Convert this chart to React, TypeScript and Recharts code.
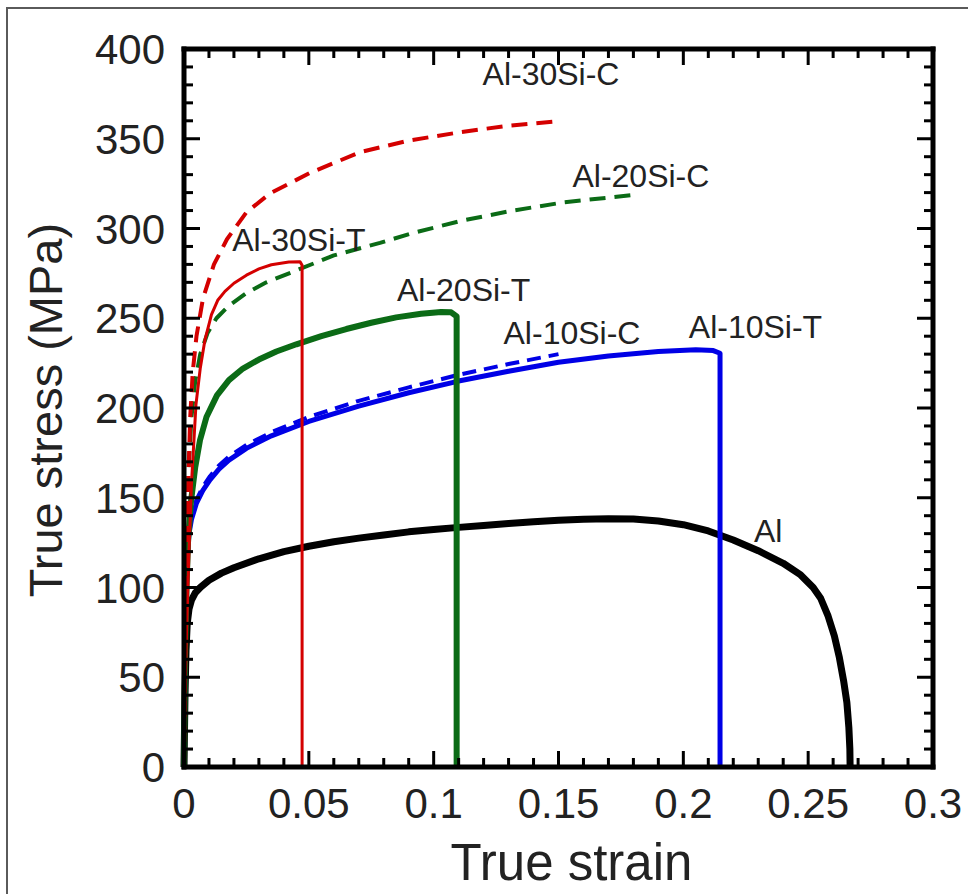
import { LineChart, Line, XAxis, YAxis, ReferenceDot, ReferenceLine, Scatter } from "recharts";

// [true strain, true stress (MPa)]
const al: [number, number][] = [
  [0, 0], [0.0004, 40], [0.0008, 65], [0.0013, 80], [0.002, 88], [0.003, 93],
  [0.0045, 97], [0.0065, 100], [0.01, 104], [0.015, 108], [0.02, 111], [0.03, 116],
  [0.04, 120], [0.05, 123], [0.06, 125.5], [0.07, 127.5], [0.08, 129.3], [0.09, 131],
  [0.1, 132.3], [0.11, 133.5], [0.12, 134.6], [0.13, 135.6], [0.14, 136.6], [0.15, 137.4],
  [0.16, 138], [0.17, 138.3], [0.18, 138.2], [0.19, 137], [0.2, 135], [0.21, 131.5],
  [0.22, 126.5], [0.23, 120.5], [0.24, 113.5], [0.247, 107], [0.252, 100], [0.255, 94],
  [0.258, 84], [0.2605, 73], [0.2625, 61], [0.2642, 48], [0.2655, 36], [0.2663, 22],
  [0.2667, 10], [0.2668, 0],
];

const al10SiT: [number, number][] = [
  [0, 0], [0.0003, 50], [0.0007, 90], [0.0012, 115], [0.002, 130], [0.003, 138],
  [0.005, 147], [0.0075, 154], [0.0104, 160], [0.014, 166], [0.018, 171], [0.025, 177.5],
  [0.035, 184.5], [0.05, 192.5], [0.07, 201], [0.09, 208.5], [0.11, 215], [0.13, 220.5],
  [0.15, 225.5], [0.17, 229], [0.19, 231.5], [0.205, 232.5], [0.212, 232], [0.2147, 230.5],
  [0.2147, 0],
];

const al10SiC: [number, number][] = [
  [0, 0], [0.0003, 55], [0.0007, 95], [0.0012, 120], [0.002, 132], [0.003, 140],
  [0.005, 149], [0.0075, 156], [0.0104, 162], [0.014, 168], [0.018, 173], [0.025, 179.5],
  [0.035, 186.5], [0.05, 195], [0.07, 204], [0.09, 211.5], [0.11, 218.5], [0.13, 224.5],
  [0.15, 230],
];

const al20SiT: [number, number][] = [
  [0, 0], [0.0004, 60], [0.001, 100], [0.0016, 125], [0.0028, 148], [0.0045, 167],
  [0.0064, 182], [0.009, 195], [0.0132, 207], [0.018, 215.5], [0.0236, 222], [0.03, 227],
  [0.037, 231.5], [0.045, 235.5], [0.055, 240], [0.065, 244], [0.075, 247.5], [0.085, 250.5],
  [0.095, 252.5], [0.103, 253.5], [0.107, 253.3], [0.1092, 251], [0.1092, 0],
];

const al20SiC: [number, number][] = [
  [0, 0], [0.0004, 70], [0.001, 125], [0.0018, 165], [0.003, 195], [0.0045, 215],
  [0.0065, 230], [0.0095, 242], [0.013, 250], [0.018, 257], [0.025, 264], [0.033, 270],
  [0.0465, 277.5], [0.06, 285], [0.0785, 292], [0.0917, 297.5], [0.1117, 304.5],
  [0.1318, 310], [0.1518, 314.5], [0.1718, 317.5], [0.182, 319],
];

const al30SiT: [number, number][] = [
  [0, 0], [0.0005, 45], [0.001, 75], [0.002, 120], [0.003, 158], [0.0048, 202],
  [0.0065, 222], [0.0084, 238], [0.011, 252], [0.0135, 260], [0.0164, 265], [0.02, 269.5],
  [0.025, 274], [0.03, 277.5], [0.035, 279.8], [0.042, 281.3], [0.0465, 281.5],
  [0.0473, 279.5], [0.0473, 0],
];

const al30SiC: [number, number][] = [
  [0, 0], [0.0004, 55], [0.0009, 105], [0.0016, 155], [0.0025, 195], [0.0035, 220],
  [0.005, 240], [0.0076, 261], [0.012, 280], [0.0172, 294], [0.025, 309], [0.0344, 319.5],
  [0.0505, 331], [0.0705, 342.5], [0.09, 349], [0.11, 353.5], [0.13, 357.3], [0.148, 359.5],
];

// curve labels: [text, strain, stress]
const curveLabels: [string, number, number][] = [
  ["Al-30Si-C", 0.147, 386],
  ["Al-20Si-C", 0.183, 329.5],
  ["Al-30Si-T", 0.046, 294],
  ["Al-20Si-T", 0.112, 266],
  ["Al-10Si-C", 0.1554, 242],
  ["Al-10Si-T", 0.2289, 245.5],
  ["Al", 0.234, 131.5],
];

const xMajor = [0, 0.05, 0.1, 0.15, 0.2, 0.25, 0.3];
const yMajor = [0, 50, 100, 150, 200, 250, 300, 350, 400];
const minorPerMajor = 5;

const X_MIN = 0;
const X_MAX = 0.3;
const Y_MIN = 0;
const Y_MAX = 400;

const subdivide = (majors: number[], n: number) => {
  const out: number[] = [];
  for (let i = 0; i < majors.length - 1; i++) {
    const step = (majors[i + 1] - majors[i]) / n;
    for (let k = 0; k < n; k++) out.push(+(majors[i] + k * step).toFixed(6));
  }
  out.push(majors[majors.length - 1]);
  return out;
};

const isMajor = (v: number, majors: number[]) => majors.some((m) => Math.abs(m - v) < 1e-6);

const xInner = subdivide(xMajor, minorPerMajor).filter((t) => t > X_MIN && t < X_MAX);
const yInner = subdivide(yMajor, minorPerMajor).filter((t) => t > Y_MIN && t < Y_MAX);

const bottomTicks = xInner.map((t) => ({ x: t, y: Y_MIN, major: isMajor(t, xMajor) }));
const topTicks = xInner.map((t) => ({ x: t, y: Y_MAX, major: isMajor(t, xMajor) }));
const leftTicks = yInner.map((t) => ({ x: X_MIN, y: t, major: isMajor(t, yMajor) }));
const rightTicks = yInner.map((t) => ({ x: X_MAX, y: t, major: isMajor(t, yMajor) }));

const FONT = "'Liberation Sans', Arial, sans-serif";
const TEXT = "#222";

const toPoints = (pts: [number, number][]) => pts.map(([x, y]) => ({ x, y }));

const BottomTick = (props: any) => {
  const { cx, cy, payload } = props;
  const len = payload && payload.major ? 16 : 9;
  return <rect x={cx - 1.5} y={cy - len} width={3} height={len} fill="black" />;
};
const TopTick = (props: any) => {
  const { cx, cy, payload } = props;
  const len = payload && payload.major ? 16 : 9;
  return <rect x={cx - 1.5} y={cy} width={3} height={len} fill="black" />;
};
const LeftTick = (props: any) => {
  const { cx, cy, payload } = props;
  const len = payload && payload.major ? 16 : 9;
  return <rect x={cx} y={cy - 1.5} width={len} height={3} fill="black" />;
};
const RightTick = (props: any) => {
  const { cx, cy, payload } = props;
  const len = payload && payload.major ? 16 : 9;
  return <rect x={cx - len} y={cy - 1.5} width={len} height={3} fill="black" />;
};

const XLabelTick = (props: any) => {
  const { x, y, payload } = props;
  const v = payload.value as number;
  return (
    <text x={x} y={y + 51} textAnchor="middle" fontSize={42} fontFamily={FONT} fill={TEXT}>
      {String(+v.toFixed(2))}
    </text>
  );
};

const YLabelTick = (props: any) => {
  const { x, y, payload } = props;
  return (
    <text x={x - 19} y={y} dy="0.36em" textAnchor="end" fontSize={42} fontFamily={FONT} fill={TEXT}>
      {String(payload.value)}
    </text>
  );
};

const series = [
  { name: "Al", pts: al, color: "#000000", width: 7, dash: undefined },
  { name: "Al-10Si-C", pts: al10SiC, color: "#0000e6", width: 4, dash: "14 8" },
  { name: "Al-10Si-T", pts: al10SiT, color: "#0000e6", width: 5, dash: undefined },
  { name: "Al-20Si-C", pts: al20SiC, color: "#0b6b16", width: 4, dash: "16 9" },
  { name: "Al-20Si-T", pts: al20SiT, color: "#0b6b16", width: 6, dash: undefined },
  { name: "Al-30Si-C", pts: al30SiC, color: "#d40000", width: 4, dash: "16 9" },
  { name: "Al-30Si-T", pts: al30SiT, color: "#d40000", width: 3, dash: undefined },
];

const frameEdges: { key: string; seg: [{ x: number; y: number }, { x: number; y: number }] }[] = [
  { key: "b", seg: [{ x: X_MIN, y: Y_MIN }, { x: X_MAX, y: Y_MIN }] },
  { key: "t", seg: [{ x: X_MIN, y: Y_MAX }, { x: X_MAX, y: Y_MAX }] },
  { key: "l", seg: [{ x: X_MIN, y: Y_MIN }, { x: X_MIN, y: Y_MAX }] },
  { key: "r", seg: [{ x: X_MAX, y: Y_MIN }, { x: X_MAX, y: Y_MAX }] },
];

export default function App() {
  return (
    <div style={{ position: "absolute", left: 0, top: 0, width: 968, height: 894, background: "#fff" }}>
      <div
        style={{
          position: "absolute",
          left: 6,
          top: 7,
          width: 962,
          height: 887,
          borderTop: "2px solid #5a5a5a",
          borderLeft: "2px solid #5a5a5a",
        }}
      />
      <LineChart
        width={968}
        height={894}
        margin={{ top: 49, right: 35, left: 124, bottom: 87 }}
        style={{ position: "absolute", left: 0, top: 0 }}
      >
        <XAxis
          xAxisId="bottom"
          dataKey="x"
          type="number"
          domain={[X_MIN, X_MAX]}
          ticks={xMajor}
          interval={0}
          height={40}
          tickSize={0}
          tickMargin={0}
          tickLine={false}
          axisLine={{ stroke: "black", strokeWidth: 4 }}
          tick={XLabelTick}
          label={{
            content: ({ viewBox }: any) => (
              <text
                x={viewBox.x + viewBox.width / 2 + 13}
                y={viewBox.y + 113}
                textAnchor="middle"
                fontSize={51}
                fontFamily={FONT}
                fill={TEXT}
              >
                True strain
              </text>
            ),
          }}
        />
        <YAxis
          yAxisId="left"
          dataKey="y"
          type="number"
          domain={[Y_MIN, Y_MAX]}
          ticks={yMajor}
          interval={0}
          width={60}
          tickSize={0}
          tickMargin={0}
          tickLine={false}
          axisLine={{ stroke: "black", strokeWidth: 4 }}
          tick={YLabelTick}
          label={{
            content: ({ viewBox }: any) => {
              const cx = viewBox.x - 62;
              const cy = viewBox.y + viewBox.height / 2 + 2;
              return (
                <text
                  x={cx}
                  y={cy}
                  transform={`rotate(-90, ${cx}, ${cy})`}
                  textAnchor="middle"
                  fontSize={47}
                  fontFamily={FONT}
                  fill={TEXT}
                >
                  True stress (MPa)
                </text>
              );
            },
          }}
        />
        {series.map((s) => (
          <Line
            key={s.name}
            xAxisId="bottom"
            yAxisId="left"
            data={toPoints(s.pts)}
            dataKey="y"
            name={s.name}
            type="linear"
            stroke={s.color}
            strokeWidth={s.width}
            strokeDasharray={s.dash}
            strokeLinejoin="round"
            dot={false}
            isAnimationActive={false}
          />
        ))}
        <Scatter xAxisId="bottom" yAxisId="left" data={bottomTicks} dataKey="y" fill="black" shape={BottomTick} isAnimationActive={false} />
        <Scatter xAxisId="bottom" yAxisId="left" data={topTicks} dataKey="y" fill="black" shape={TopTick} isAnimationActive={false} />
        <Scatter xAxisId="bottom" yAxisId="left" data={leftTicks} dataKey="y" fill="black" shape={LeftTick} isAnimationActive={false} />
        <Scatter xAxisId="bottom" yAxisId="left" data={rightTicks} dataKey="y" fill="black" shape={RightTick} isAnimationActive={false} />
        {frameEdges.map((e) => (
          <ReferenceLine
            key={e.key}
            xAxisId="bottom"
            yAxisId="left"
            segment={e.seg}
            stroke="black"
            strokeWidth={5}
            strokeLinecap="square"
          />
        ))}
        {curveLabels.map(([text, x, y]) => (
          <ReferenceDot
            key={text}
            xAxisId="bottom"
            yAxisId="left"
            x={x}
            y={y}
            r={0}
            fill="none"
            stroke="none"
            label={{ value: text, position: "center", fontSize: 32, fontFamily: FONT, fill: TEXT }}
          />
        ))}
      </LineChart>
    </div>
  );
}
